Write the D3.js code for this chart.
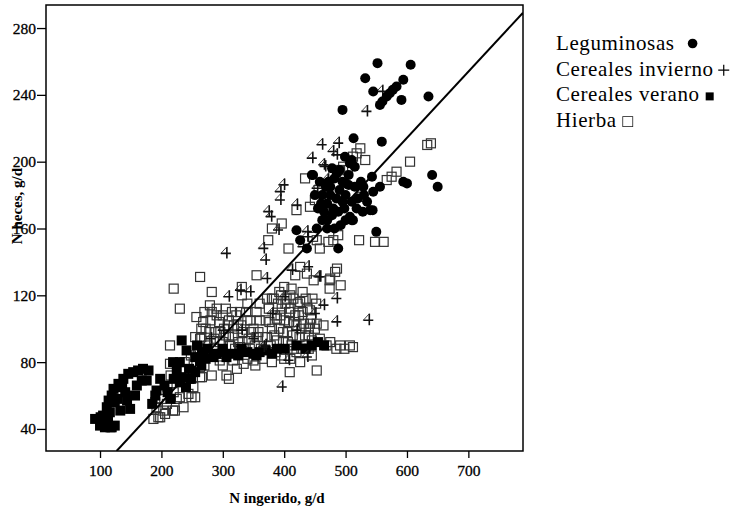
<!DOCTYPE html>
<html>
<head>
<meta charset="utf-8">
<script src="https://cdn.jsdelivr.net/npm/d3@7"></script>
<style>
body { margin: 0; background: #fff; }
svg { display: block; }
text { font-family: "Liberation Serif", "Times New Roman", serif; }
</style>
</head>
<body>
<svg id="chart"></svg>
<script>
let w = 739;
let h = 514;

let xTicks = [100, 200, 300, 400, 500, 600, 700];
let yTicks = [40, 80, 120, 160, 200, 240, 280];

let legendLabels = ["Leguminosas", "Cereales invierno", "Cereales verano", "Hierba"];
let legendSymbols = ["circulo", "cruz", "lleno", "vacio"];

// recta de regresion, extremos
let fitX = [127, 789];
let fitY = [26.8, 289.2];

// Leguminosas (circulos rellenos)
let leguminosas = [
  [552,259],[606,258],[532,250],[594,249],[545,242],[572,241],[577,243],[583,245],[567,239],[591,237],
  [556,234],[560,236],[635,239],[495,231],
  [513,214],[559,212],[641,192],[650,185],[594,188],[600,187],[543,191],[556,185],[545,182],[544,171],
  [550,158],[510,165],[445,192],[499,203],[507,199],[515,197],[475,185],[486,193],[529,185],[420,159],
  [426,153],[437,148],[453,160],[488,148],[507,167],[512,165],[447,192],[510,201],[540,171],
  [465,170],[470,175],[475,180],[480,172],[485,178],[490,183],[495,176],[500,180],[505,186],[470,165],
  [478,168],[488,170],[498,172],[520,178],[525,188],[530,180],[535,176],[515,185],[505,192],[495,188],
  [482,190],[472,188],[462,180],[460,175],[468,185],[478,196],[490,195],[500,187],[510,176],[518,172],
  [528,170],[500,165],[492,162],[482,160],[470,160],[462,165],[455,172],[450,180],[458,188]
];

// Cereales invierno (cruces)
let cerealesInvierno = [
  [305,146],[461,211],[488,212],[479,207],[485,205],[445,203],[464,199],[399,187],[393,183],[393,178],
  [374,171],[378,168],[366,149],[559,243],[534,231],[453,185],[437,159],[466,198],[369,142],[437,156],
  [439,138],[371,131],[309,120],[344,123],[464,115],[485,119],[485,105],[369,91],[407,82],[396,66],
  [456,132],[537,106],[437,84],[328,124],[458,132],[412,136],[366,90],[470,190],[420,175],[430,150],
  [400,120],[380,110],[420,100],[330,100],[350,95],[450,110],[300,100],[280,95],[390,160]
];

// Cereales verano (cuadrados rellenos)
let cerealesVerano = [
  [92,46],[100,42],[108,41],[119,41],[124,42],[105,48],[111,53],[114,57],[119,60],[122,64],
  [130,67],[138,70],[146,73],[154,74],[162,75],[170,76],[179,75],[176,69],[157,60],[144,57],
  [149,52],[133,51],[124,56],[141,62],[160,66],[168,69],[198,70],[192,63],[233,93],[113,45],
  [116,50],[128,58],[136,65],[117,41],[101,47],
  [219,80],[225,75],[233,71],[241,87],[255,83],[263,81],[285,83],[306,83],[355,84],[240,65],
  [248,70],[255,74],[265,78],[272,82],[230,68],[210,62],[215,58],[245,76],[258,90],[266,86],
  [275,88],[290,85],[300,86],[315,85],[325,84],[340,86],[350,85],[360,86],[370,87],[380,85],
  [388,88],[400,88],[420,90],[435,88],[445,90],[455,92],[465,90],[230,80],[205,66],[220,70],
  [300,88],[330,88],[190,60],[185,55]
];

// Hierba (cuadrados vacios)
let hierba = [
  [633,210],[639,211],[605,200],[583,194],[575,191],[567,189],[522,153],[548,152],[562,152],[524,208],
  [532,201],[518,205],[512,203],[434,190],[488,195],[496,197],[480,193],[469,185],[456,183],[450,177],
  [420,171],[442,173],[396,163],[380,160],[374,153],[407,148],[447,155],[453,153],[480,153],[488,156],
  [526,179],[458,148],[472,152],[426,137],[486,136],[355,132],[418,132],[475,130],[504,195],[491,195],
  [282,122],[331,125],[331,120],[257,107],[279,114],[464,102],[453,103],[263,131],[220,124],[230,112],
  [355,95],[483,134],[474,129],[474,124],[492,126],[448,129],[437,133],[442,111],[442,103],[328,110],
  [340,115],[305,112],[310,105],[300,108],[290,112],[270,110],[265,100],[345,105],
  [372,95],[380,100],[385,108],[390,115],[395,120],[400,105],[405,98],[410,112],[415,118],[420,102],
  [425,95],[430,110],[435,118],[440,100],[445,93],[375,112],[383,118],[398,92],[412,90],[428,88],
  [392,100],[402,115],[418,108],[432,103],[378,90],[388,93],[408,104],[422,115],[438,112],[400,125],
  [410,120],
  [376,104],[384,96],[394,108],[404,118],[414,96],[424,108],[434,96],[444,106],[380,118],[396,112],
  [406,92],[416,104],[426,116],[436,90],[446,118],[388,106],[398,98],[408,110],[428,100],[370,105],
  [372,118],[392,122],[412,124],[430,122],[450,100],[452,115],[386,86],[400,82],[416,88],[440,88],
  [265,95],[272,100],[280,105],[288,98],[295,92],[302,100],[310,95],[318,102],[325,92],[333,98],
  [340,105],[275,90],[285,88],[298,85],[312,90],[322,108],[335,88],[342,94],[270,85],[290,108],
  [305,96],[315,110],[330,102],[350,100],[360,105],[365,95],[355,110],[360,115],
  [268,104],[278,98],[286,94],[294,104],[300,92],[308,102],[316,96],[324,100],[332,92],[338,110],
  [346,98],[352,90],[358,98],[362,88],[282,110],[296,98],[320,88],[344,88],
  [409,74],[453,75],[323,76],[306,72],[282,72],[353,78],[420,86],[255,59],[214,90],[257,79],
  [263,77],[263,71],[252,65],[295,81],[317,81],[328,89],[334,79],[350,81],[192,53],[203,51],
  [209,55],[222,51],[236,53],[244,61],[230,59],[198,47],[255,95],[263,94],[266,71],[249,59],
  [219,51],[206,49],[190,56],[195,47],[187,46],[214,79],[458,94],[469,90],[491,90],[507,90],
  [498,88],[512,89],[485,88],[475,92],[440,96],[210,65],[220,62],[235,68],[245,70],[225,58],
  [200,58],[215,72],[238,80],[248,84],[260,88],[270,78],[300,78],[310,70],[340,82],[365,82],
  [380,80],[395,84],[410,82],[426,80],[445,84]
];

let svg = d3.select("#chart").attr("width", w).attr("height", h);

let mLeft = 46, mRight = 523, mTop = 5, mBottom = 451;

let scalex = d3.scaleLinear().domain([12, 789]).range([mLeft, mRight]);
let scaley = d3.scaleLinear().domain([26.8, 293.8]).range([mBottom, mTop]);

let plot = svg.append("g");

// clip para que la recta no salga del marco
svg.append("clipPath").attr("id", "clip")
  .append("rect").attr("x", mLeft).attr("y", mTop).attr("width", mRight - mLeft).attr("height", mBottom - mTop);

// Hierba
plot.selectAll(".hierba")
  .data(hierba)
  .enter()
  .append("rect")
  .attr("class", "hierba")
  .attr("x", d => scalex(d[0]) - 4.5)
  .attr("y", d => scaley(d[1]) - 4.5)
  .attr("width", 9)
  .attr("height", 9)
  .attr("fill", "none")
  .attr("stroke", "#333")
  .attr("stroke-width", 1.2);

// Cereales verano
plot.selectAll(".verano")
  .data(cerealesVerano)
  .enter()
  .append("rect")
  .attr("class", "verano")
  .attr("x", d => scalex(d[0]) - 5)
  .attr("y", d => scaley(d[1]) - 5)
  .attr("width", 10)
  .attr("height", 10)
  .attr("fill", "#000");

// Cereales invierno: cruz con trazo fino en diagonal
let cruz = plot.selectAll(".invierno")
  .data(cerealesInvierno)
  .enter()
  .append("g")
  .attr("class", "invierno")
  .attr("transform", d => `translate(${scalex(d[0])},${scaley(d[1])})`);
cruz.append("path")
  .attr("d", "M-5,1.5H5 M1,-5V6.5")
  .attr("fill", "none")
  .attr("stroke", "#111")
  .attr("stroke-width", 1.6);
cruz.append("path")
  .attr("d", "M1,-5L-5,1.5")
  .attr("fill", "none")
  .attr("stroke", "#333")
  .attr("stroke-width", 0.9);

// Leguminosas
plot.selectAll(".legum")
  .data(leguminosas)
  .enter()
  .append("circle")
  .attr("class", "legum")
  .attr("cx", d => scalex(d[0]))
  .attr("cy", d => scaley(d[1]))
  .attr("r", 5)
  .attr("fill", "#000");

// recta
svg.append("line")
  .attr("clip-path", "url(#clip)")
  .attr("x1", scalex(fitX[0]))
  .attr("y1", scaley(fitY[0]))
  .attr("x2", scalex(fitX[1]))
  .attr("y2", scaley(fitY[1]))
  .attr("stroke", "#000")
  .attr("stroke-width", 2);

// marco
svg.append("rect")
  .attr("x", mLeft).attr("y", mTop)
  .attr("width", mRight - mLeft).attr("height", mBottom - mTop)
  .attr("fill", "none").attr("stroke", "#000").attr("stroke-width", 1.5);

// ejes
let xAxis = svg.append("g")
  .attr("transform", `translate(0,${mBottom})`)
  .call(d3.axisBottom(scalex).tickValues(xTicks).tickSize(7).tickPadding(7).tickFormat(d3.format("d")));
let yAxis = svg.append("g")
  .attr("transform", `translate(${mLeft},0)`)
  .call(d3.axisLeft(scaley).tickValues(yTicks).tickSize(9).tickPadding(1).tickFormat(d3.format("d")));

[xAxis, yAxis].forEach(a => {
  a.select(".domain").remove();
  a.selectAll("line").attr("stroke", "#000").attr("stroke-width", 1.3);
  a.selectAll("text")
    .attr("font-size", 15.5)
    .attr("fill", "#000")
    .attr("stroke", "#000")
    .attr("stroke-width", 0.3);
});

// titulos
svg.append("text")
  .attr("x", 277).attr("y", 503)
  .attr("text-anchor", "middle")
  .attr("font-size", 15).attr("font-weight", "bold")
  .text("N ingerido, g/d");

svg.append("text")
  .attr("transform", "translate(22,206) rotate(-90)")
  .attr("text-anchor", "middle")
  .attr("font-size", 15).attr("font-weight", "bold")
  .text("N heces, g/d");

// leyenda: texto y simbolo al final de cada linea
let legX = 556;
let legY = (i) => 50 + i * 25.7;

let leg = svg.selectAll(".leg")
  .data(legendLabels)
  .enter()
  .append("g")
  .attr("class", "leg");

leg.append("text")
  .attr("x", legX)
  .attr("y", (d, i) => legY(i))
  .attr("font-size", 21)
  .attr("letter-spacing", 0.6)
  .text(d => d);

leg.each(function (d, i) {
  let g = d3.select(this);
  let end = legX + g.select("text").node().getComputedTextLength();
  let s = legendSymbols[i];
  let cy = legY(i) - 5.5;
  if (s === "circulo") {
    g.append("circle").attr("cx", end + 18).attr("cy", cy - 1).attr("r", 4.8).attr("fill", "#000");
  } else if (s === "cruz") {
    let cx = end + 10;
    g.append("path")
      .attr("d", `M${cx - 5.5},${cy}H${cx + 5.5} M${cx},${cy - 5.5}V${cy + 5.5}`)
      .attr("stroke", "#000").attr("stroke-width", 1.2);
  } else if (s === "lleno") {
    g.append("rect").attr("x", end + 6).attr("y", cy - 3.5).attr("width", 8).attr("height", 8).attr("fill", "#000");
  } else {
    g.append("rect").attr("x", end + 6).attr("y", cy - 5).attr("width", 10).attr("height", 10)
      .attr("fill", "none").attr("stroke", "#222").attr("stroke-width", 0.8);
  }
});
</script>
</body>
</html>
